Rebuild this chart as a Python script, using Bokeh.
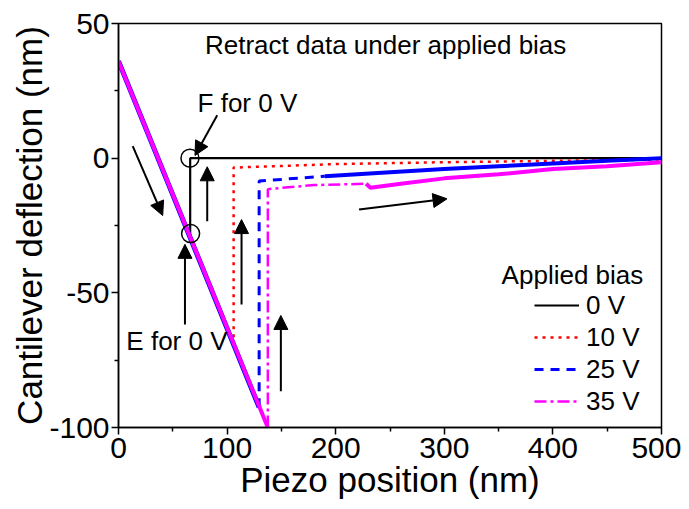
from bokeh.plotting import figure
from bokeh.models import (FixedTicker, Arrow, NormalHead, Label, Legend, LegendItem,
                          ColumnDataSource, Range1d)
from bokeh.embed import file_html
from bokeh.resources import INLINE

FONT = "Liberation Sans"

# ---- data ----
x_0v = [0, 66, 66, 500]
y_0v = [36, -29.5, 0, 0]

x_10v = [0, 106, 106, 200, 300, 400, 500]
y_10v = [36, -69.5, -3.5, -2.2, -1.5, -1.0, -0.5]

x_25v = [0, 129.5, 129.5, 190, 250, 300, 350, 400, 450, 500]
y_25v = [36, -92.5, -8.5, -6.7, -5.2, -4.0, -3.0, -2.0, -1.0, 0.0]

x_35v = [0, 137.5, 137.5, 180, 228, 232, 260, 300, 350, 400, 450, 500]
y_35v = [36, -100, -11.5, -10, -9.5, -11, -9.5, -7.5, -6.0, -4.0, -3.0, -1.5]

bias_labels = ["0 V", "10 V", "25 V", "35 V"]

x_ticks = [0, 100, 200, 300, 400, 500]
x_minor = [50, 150, 250, 350, 450]
y_ticks = [-100, -50, 0, 50]
y_minor = [-75, -25, 25]
y_tick_labels = ["-100", "-50", "0", "50"]

x_title = "Piezo position (nm)"
y_title = "Cantilever deflection (nm)"

circle_x = [65.8, 66.4]
circle_y = [0, -28]

arrow_x0 = [13.1, 90.9, 81.7, 113.3, 61.2, 149.5, 221.5]
arrow_y0 = [4.5, 15.9, -23.4, -54.3, -61.8, -86.5, -19.1]
arrow_x1 = [40.7, 70.4, 81.7, 113.3, 61.2, 149.5, 302.5]
arrow_y1 = [-21.3, 1.0, -3.2, -22.8, -32.0, -58.4, -15.1]

# ---- figure ----
p = figure(width=681, height=509, output_backend="svg", toolbar_location=None,
           x_range=Range1d(0, 500), y_range=Range1d(-100, 50),
           min_border_left=118, min_border_right=20, min_border_top=23,
           min_border_bottom=82)
p.grid.visible = False
p.outline_line_color = "black"
p.outline_line_width = 1.5
p.background_fill_color = "white"
p.border_fill_color = "white"

for ax in (p.xaxis[0], p.yaxis[0]):
    ax.axis_line_width = 1.5
    ax.axis_line_color = "black"
    ax.major_tick_line_width = 1.5
    ax.minor_tick_line_width = 1.5
    ax.major_tick_out = 7
    ax.major_tick_in = 0
    ax.minor_tick_out = 4
    ax.minor_tick_in = 0
    ax.major_label_text_font = FONT
    ax.major_label_text_font_size = "30px"
    ax.major_label_text_color = "black"
    ax.axis_label_text_font = FONT
    ax.axis_label_text_font_style = "normal"
    ax.axis_label_text_font_size = "35px"
    ax.axis_label_text_color = "black"

p.xaxis.ticker = FixedTicker(ticks=x_ticks, minor_ticks=x_minor)
p.yaxis.ticker = FixedTicker(ticks=y_ticks, minor_ticks=y_minor)
p.yaxis.major_label_overrides = {t: s for t, s in zip(y_ticks, y_tick_labels)}
p.xaxis.axis_label = x_title
p.yaxis.axis_label = y_title
p.xaxis.major_label_standoff = 3
p.xaxis.axis_label_standoff = -1
p.yaxis.major_label_standoff = 2
p.yaxis.axis_label_standoff = -3

# ---- curves ----
# 0 V
r0 = p.line(x_0v, y_0v, line_color="black", line_width=2.2)
# 10 V
p.line(x_10v[:2], y_10v[:2], line_color="red", line_width=3)
r10 = p.line(x_10v[1:], y_10v[1:], line_color="red", line_width=2.5, line_dash="3 5")
# 25 V
p.line(x_25v[:2], y_25v[:2], line_color="blue", line_width=5)
r25 = p.line(x_25v[1:4], y_25v[1:4], line_color="blue", line_width=3, line_dash="9 7")
p.line(x_25v[3:], y_25v[3:], line_color="blue", line_width=4)
# 35 V
p.line(x_35v[:2], y_35v[:2], line_color="magenta", line_width=4)
r35 = p.line(x_35v[1:5], y_35v[1:5], line_color="magenta", line_width=2.5, line_dash="12 4 3 4")
p.line(x_35v[4:], y_35v[4:], line_color="magenta", line_width=4)

# circles
p.scatter(circle_x, circle_y, size=18, fill_color=None, line_color="black", line_width=1.5)

# arrows
asrc = ColumnDataSource(dict(x0=arrow_x0, y0=arrow_y0, x1=arrow_x1, y1=arrow_y1))
p.add_layout(Arrow(source=asrc, x_start="x0", y_start="y0", x_end="x1", y_end="y1",
                   line_width=2, line_color="black",
                   end=NormalHead(size=14, fill_color="black", line_color="black")))

# texts
def add_label(x, y, txt, size, align="center"):
    p.add_layout(Label(x=x, y=y, text=txt, text_font=FONT, text_font_size=size,
                       text_align=align, text_baseline="middle", text_color="black"))

add_label(246, 42, "Retract data under applied bias", "26px")
add_label(118.7, 20.3, "F for 0 V", "26px")
add_label(53.8, -68, "E for 0 V", "26px")
add_label(418, -43.2, "Applied bias", "26px")

legend = Legend(items=[LegendItem(label=bias_labels[0], renderers=[r0]),
                       LegendItem(label=bias_labels[1], renderers=[r10]),
                       LegendItem(label=bias_labels[2], renderers=[r25]),
                       LegendItem(label=bias_labels[3], renderers=[r35])],
                location=(416, 10), orientation="vertical",
                glyph_width=45, glyph_height=32, label_height=32, label_standoff=7,
                spacing=0, padding=0, margin=0,
                border_line_color=None, background_fill_alpha=0,
                label_text_font=FONT, label_text_font_size="26px",
                label_text_color="black")
p.add_layout(legend, "center")

open("out.html", "w").write(file_html(p, INLINE))
